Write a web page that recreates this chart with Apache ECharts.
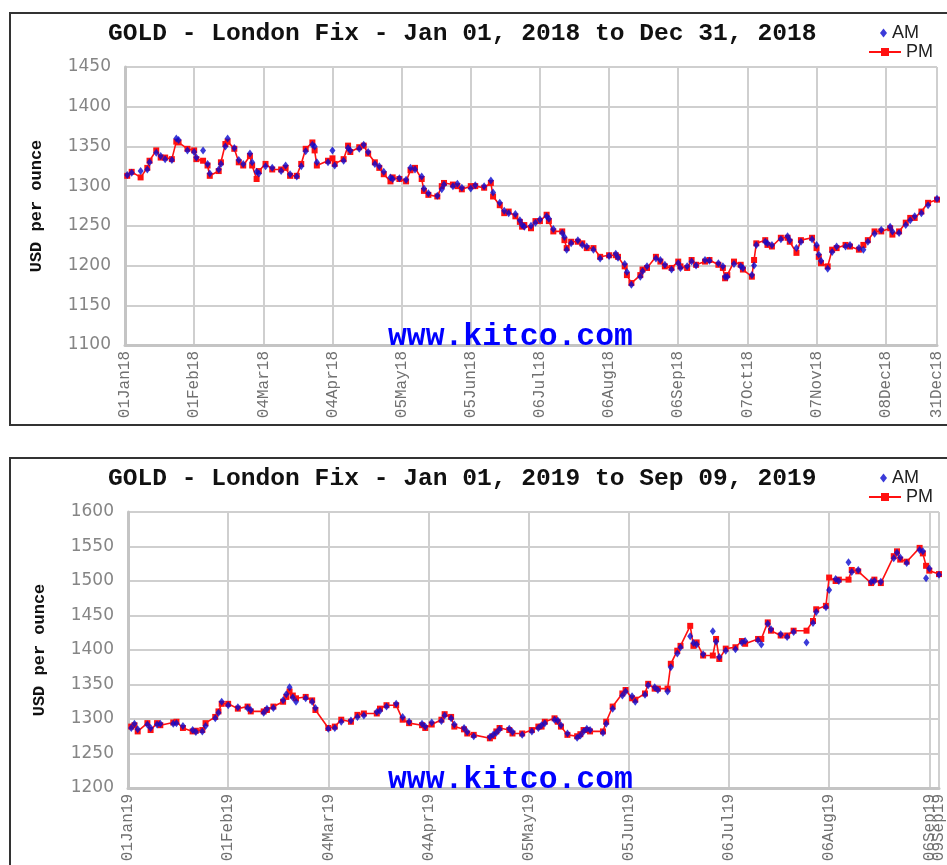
<!DOCTYPE html>
<html><head><meta charset="utf-8">
<script src="https://cdn.jsdelivr.net/npm/echarts@6/dist/echarts.min.js"></script>
<style>html,body{margin:0;padding:0;background:#fff}#c{width:947px;height:865px}</style>
</head><body><div id="c"></div>
<script>
// ---- 2018 panel data (month-day, AM fix, PM fix) ----
const year1 = 2018;
const dates2018 = ['01-02','01-04','01-08','01-11','01-12','01-15','01-17','01-19','01-22','01-24','01-25','01-29',
'02-01','02-02','02-05','02-07','02-08','02-12','02-13','02-15','02-16','02-19','02-21','02-23','02-26','02-27',
'03-01','03-02','03-05','03-08','03-12','03-14','03-16','03-19','03-21','03-23','03-26','03-27','03-28',
'04-02','04-04','04-05','04-09','04-11','04-12','04-16','04-18','04-20','04-23','04-25','04-27','04-30',
'05-01','05-04','05-07','05-09','05-11','05-14','05-15','05-17','05-21','05-23','05-24','05-28','05-30',
'06-01','06-05','06-07','06-11','06-14','06-15','06-18','06-20','06-22','06-25','06-27','06-28','06-29',
'07-02','07-04','07-06','07-09','07-10','07-12','07-16','07-17','07-18','07-20','07-23','07-25','07-27','07-30',
'08-02','08-06','08-09','08-10','08-13','08-14','08-16','08-20','08-21','08-23','08-27','08-29','08-31',
'09-03','09-06','09-07','09-10','09-12','09-14','09-18','09-20','09-24','09-26','09-27','09-28',
'10-01','10-04','10-05','10-09','10-10','10-11','10-15','10-16','10-18','10-22','10-25','10-26','10-29','10-31',
'11-05','11-07','11-08','11-09','11-12','11-14','11-16','11-20','11-22','11-26','11-28','11-30',
'12-03','12-06','12-10','12-11','12-14','12-17','12-19','12-21','12-24','12-27','12-31'];
const pm2018 = [1313,1318,1311,1323,1332,1345,1336,1336,1334,1356,1355,1347,
1345,1334,1332,1326,1313,1319,1330,1353,1356,1347,1330,1326,1338,1326,
1309,1319,1328,1321,1321,1323,1313,1313,1328,1347,1355,1345,1326,
1332,1335,1328,1334,1351,1343,1349,1351,1341,1330,1323,1315,1306,
1311,1309,1306,1320,1323,1309,1294,1289,1287,1300,1304,1302,1300,
1296,1300,1300,1298,1304,1287,1276,1266,1268,1262,1255,1249,1251,
1247,1256,1256,1264,1256,1243,1243,1232,1222,1230,1230,1228,1222,1222,
1211,1213,1213,1211,1199,1188,1178,1188,1195,1197,1211,1205,1199,
1197,1205,1199,1197,1207,1201,1205,1207,1201,1197,1184,1188,
1205,1201,1195,1186,1207,1228,1232,1226,1224,1235,1235,1230,1216,1232,
1235,1222,1211,1203,1199,1220,1222,1226,1224,1220,1226,1232,
1243,1243,1247,1239,1243,1254,1260,1260,1268,1279,1283];
const am2018 = [1314,1317,1319,1321,1330,1342,1338,1334,1333,1360,1358,1345,
1343,1336,1345,1328,1316,1321,1328,1350,1360,1348,1333,1328,1341,1330,
1318,1316,1325,1323,1319,1326,1315,1312,1325,1344,1352,1350,1330,
1330,1345,1326,1332,1348,1345,1347,1352,1343,1328,1325,1318,1311,
1309,1310,1308,1323,1321,1312,1297,1291,1288,1296,1302,1300,1303,
1298,1297,1301,1300,1307,1292,1279,1269,1266,1265,1257,1251,1249,
1250,1254,1258,1262,1259,1246,1241,1236,1220,1228,1232,1226,1224,1220,
1209,1212,1215,1210,1202,1192,1176,1186,1193,1199,1209,1207,1201,
1195,1203,1197,1199,1205,1200,1207,1206,1203,1199,1186,1186,
1202,1199,1197,1188,1200,1226,1230,1228,1226,1233,1237,1232,1222,1230,
1233,1226,1214,1206,1196,1217,1224,1224,1226,1222,1220,1230,
1240,1245,1249,1243,1241,1251,1257,1262,1266,1276,1284];
const xTicks2018 = ['01-01','02-01','03-04','04-04','05-05','06-05','07-06','08-06','09-06','10-07','11-07','12-08','12-31'];
const yMin1 = 1100, yMax1 = 1450;

// ---- 2019 panel data ----
const year2 = 2019;
const dates2019 = ['01-02','01-03','01-04','01-07','01-08','01-10','01-11','01-15','01-16','01-18','01-21','01-22','01-24','01-25','01-28','01-29','01-30',
'02-01','02-04','02-07','02-08','02-12','02-13','02-15','02-18','02-19','02-20','02-21','02-22','02-25','02-27','02-28',
'03-04','03-06','03-08','03-11','03-13','03-15','03-19','03-20','03-22','03-25','03-27','03-29',
'04-02','04-03','04-05','04-08','04-09','04-11','04-12','04-15','04-16','04-18','04-23','04-24','04-25','04-26','04-29','04-30',
'05-03','05-06','05-08','05-09','05-10','05-13','05-14','05-15','05-17','05-20','05-21','05-22','05-23','05-24','05-28','05-29','05-31',
'06-03','06-04','06-06','06-07','06-10','06-11','06-13','06-14','06-17','06-18','06-20','06-21','06-24','06-25','06-26','06-28',
'07-01','07-02','07-03','07-05','07-08','07-10','07-11','07-15','07-16','07-18','07-19','07-22','07-24','07-26','07-30',
'08-01','08-02','08-05','08-06','08-08','08-09','08-12','08-13','08-15','08-19','08-20','08-22','08-26','08-27','08-28','08-30',
'09-03','09-04','09-05','09-06','09-09'];
const pm2019 = [1289,1291,1282,1294,1284,1294,1291,1295,1296,1287,1282,1283,1284,1294,1303,1311,1322,
1322,1315,1318,1311,1311,1313,1318,1325,1332,1340,1334,1330,1332,1327,1313,
1287,1289,1299,1296,1306,1308,1308,1315,1320,1320,1299,1294,
1291,1287,1292,1299,1307,1303,1289,1285,1279,1277,1272,1275,1282,1287,1284,1279,
1279,1284,1289,1289,1296,1301,1296,1289,1277,1275,1278,1284,1284,1282,1282,1296,1318,
1337,1342,1330,1328,1337,1351,1344,1344,1344,1380,1399,1406,1435,1406,1411,1392,
1392,1416,1387,1402,1404,1413,1409,1416,1416,1440,1428,1421,1421,1428,1428,
1442,1459,1464,1505,1500,1502,1502,1516,1514,1497,1502,1497,1536,1543,1531,1528,
1548,1540,1522,1515,1510];
const am2019 = [1287,1293,1285,1292,1287,1292,1293,1293,1294,1290,1284,1281,1282,1290,1301,1309,1325,
1320,1317,1316,1313,1309,1315,1316,1327,1336,1346,1331,1325,1330,1325,1316,
1286,1287,1296,1298,1303,1305,1310,1312,1318,1322,1303,1296,
1293,1289,1295,1297,1305,1301,1292,1287,1281,1275,1274,1277,1280,1285,1286,1281,
1277,1282,1287,1291,1294,1299,1298,1291,1279,1273,1276,1282,1286,1284,1280,1293,1315,
1334,1340,1333,1325,1335,1349,1346,1342,1340,1375,1395,1404,1420,1410,1408,1394,
1427,1412,1390,1399,1401,1411,1413,1414,1408,1438,1430,1423,1419,1426,1411,
1439,1455,1462,1487,1503,1500,1527,1513,1516,1499,1500,1499,1533,1541,1534,1526,
1545,1543,1504,1518,1509];
const xTicks2019 = ['01-01','02-01','03-04','04-04','05-05','06-05','07-06','08-06','09-06','09-09'];
const yMin2 = 1200, yMax2 = 1600;

const MONTHS = ['Jan','Feb','Mar','Apr','May','Jun','Jul','Aug','Sep','Oct','Nov','Dec'];
function dayOf(year, md) {
  const [m, d] = md.split('-').map(Number);
  return (Date.UTC(year, m - 1, d) - Date.UTC(year, 0, 1)) / 864e5;
}
function labelFor(year) {
  return function (v) {
    const dt = new Date(Date.UTC(year, 0, 1) + Math.round(v) * 864e5);
    const dd = String(dt.getUTCDate()).padStart(2, '0');
    return dd + MONTHS[dt.getUTCMonth()] + String(dt.getUTCFullYear()).slice(2);
  };
}
function pts(year, dates, vals) { return dates.map((d, i) => [dayOf(year, d), vals[i]]); }

const gridLine = {color: '#cfcfcf', width: 2};
const axLine = {color: '#c4c4c4', width: 3};
const xLabelStyle = {rotate: 90, color: '#707070', fontFamily: 'Liberation Mono', fontSize: 16, margin: 6, hideOverlap: false};
function xAx(idx, year, ticks) {
  const tv = ticks.map(t => dayOf(year, t));
  return {
    type: 'value', gridIndex: idx, position: 'bottom', min: 0, max: tv[tv.length - 1], interval: 31,
    axisLine: {show: true, lineStyle: axLine},
    axisTick: {show: false, customValues: tv},
    splitLine: {show: true, lineStyle: gridLine},
    axisLabel: Object.assign({customValues: tv, formatter: labelFor(year), showMinLabel: true, showMaxLabel: true}, xLabelStyle)
  };
}
// helper axis that only carries a label hidden by overlap handling on the main axis
function xAxExtra(idx, year, ticks, which) {
  const tv = ticks.map(t => dayOf(year, t));
  const one = [tv[which]];
  return {
    type: 'value', gridIndex: idx, position: 'bottom', offset: 0, min: 0, max: tv[tv.length - 1],
    axisLine: {show: false}, axisTick: {show: false, customValues: one}, splitLine: {show: false},
    axisLabel: Object.assign({customValues: one, formatter: labelFor(year), showMinLabel: true, showMaxLabel: true}, xLabelStyle)
  };
}
function yAx(idx, mn, mx) {
  return {
    type: 'value', gridIndex: idx, min: mn, max: mx, interval: 50,
    axisLine: {show: true, lineStyle: axLine}, axisTick: {show: false},
    splitLine: {show: true, lineStyle: gridLine},
    axisLabel: {color: '#858585', fontFamily: 'DejaVu Sans', fontSize: 17, margin: 14, formatter: v => String(v)},
    name: 'USD per ounce', nameLocation: 'middle', nameGap: 80,
    nameTextStyle: {fontFamily: 'Liberation Mono', fontWeight: 'bold', fontSize: 17, color: '#111'}
  };
}
function seriesFor(idx, year, dates, am, pm) {
  return [
    {type: 'line', name: 'PM', xAxisIndex: idx, yAxisIndex: idx, data: pts(year, dates, pm),
      symbol: 'rect', symbolSize: 6, showSymbol: true,
      lineStyle: {color: '#ff1010', width: 1.6}, itemStyle: {color: '#ff1010'}, z: 2},
    {type: 'scatter', name: 'AM', xAxisIndex: idx, yAxisIndex: idx, data: pts(year, dates, am),
      symbol: 'diamond', symbolSize: [6, 8], itemStyle: {color: '#0a0ad0'}, z: 3}
  ];
}
const titleFont = {fontFamily: 'Liberation Mono', fontWeight: 'bold', fontSize: 24.6, color: '#111'};
const wmFont = {fontFamily: 'Liberation Mono', fontWeight: 'bold', fontSize: 31.4, color: '#0000ff'};
const legText = {fontFamily: 'Liberation Sans', fontSize: 18, color: '#222'};
function legendAM(top) {
  return {orient: 'vertical', left: 880, top: top, padding: 0, itemWidth: 7, itemHeight: 9,
    data: [{name: 'AM', icon: 'diamond'}], textStyle: legText, selectedMode: false};
}
function legendPM(top) {
  return {orient: 'vertical', left: 868, top: top, padding: 0, itemWidth: 32, itemHeight: 10,
    data: [{name: 'PM'}], textStyle: legText, selectedMode: false};
}

const chart = echarts.init(document.getElementById('c'), null, {renderer: 'canvas'});
chart.setOption({
  animation: false,
  backgroundColor: '#fff',
  title: [
    {text: 'GOLD - London Fix - Jan 01, ' + year1 + ' to Dec 31, ' + year1, left: 108, top: 21, padding: 0, textStyle: titleFont},
    {text: 'www.kitco.com', left: 388, top: 322, padding: 0, textStyle: wmFont},
    {text: 'GOLD - London Fix - Jan 01, ' + year2 + ' to Sep 09, ' + year2, left: 108, top: 466, padding: 0, textStyle: titleFont},
    {text: 'www.kitco.com', left: 388, top: 765, padding: 0, textStyle: wmFont}
  ],
  legend: [legendAM(24), legendPM(43), legendAM(469), legendPM(488)],
  graphic: [
    {type: 'rect', shape: {x: 10, y: 13, width: 960, height: 412}, style: {fill: 'none', stroke: '#333', lineWidth: 2}, z: -10},
    {type: 'rect', shape: {x: 10, y: 458, width: 960, height: 430}, style: {fill: 'none', stroke: '#333', lineWidth: 2}, z: -10}
  ],
  grid: [
    {left: 125, top: 67, width: 812, height: 278},
    {left: 128, top: 512, width: 812, height: 276}
  ],
  xAxis: [xAx(0, year1, xTicks2018), xAx(1, year2, xTicks2019), xAxExtra(1, year2, xTicks2019, xTicks2019.length - 2)],
  yAxis: [yAx(0, yMin1, yMax1), yAx(1, yMin2, yMax2)],
  series: [].concat(seriesFor(0, year1, dates2018, am2018, pm2018), seriesFor(1, year2, dates2019, am2019, pm2019))
});
</script></body></html>
